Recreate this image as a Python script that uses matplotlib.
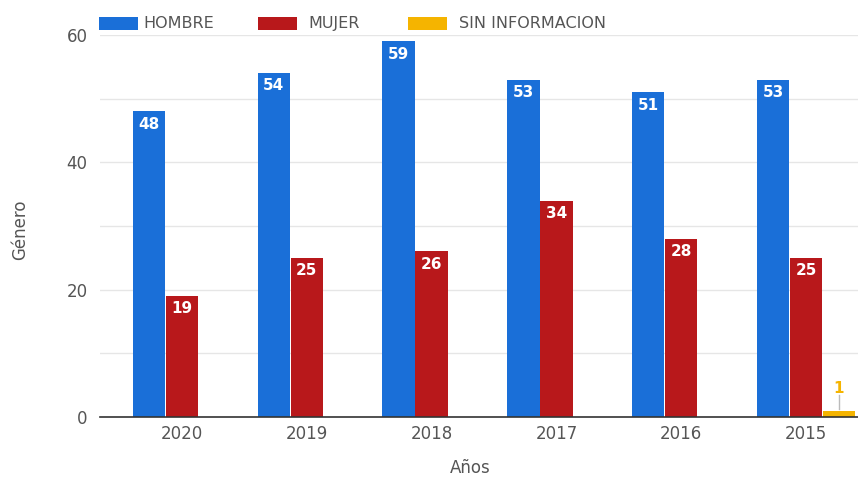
import matplotlib
matplotlib.use("Agg")
import matplotlib.pyplot as plt
import numpy as np
from matplotlib.patches import Rectangle

years = ["2020", "2019", "2018", "2017", "2016", "2015"]
hombre = [48, 54, 59, 53, 51, 53]
mujer = [19, 25, 26, 34, 28, 25]
sin_info = [0, 0, 0, 0, 0, 1]
series_names = ["HOMBRE", "MUJER", "SIN INFORMACION"]
colors = ["#1a6fd8", "#b8181b", "#f5b400"]

W, H = 858, 479
fig = plt.figure(figsize=(W / 100, H / 100), dpi=100)
ax = fig.add_axes([100 / W, 62 / H, 788 / W, (417 - 35) / H])

x = np.arange(len(years))
w = 0.264
gray = "#555555"

for i, (vals, c) in enumerate(zip([hombre, mujer, sin_info], colors)):
    pos = x + (i - 1) * w
    ax.bar(pos, vals, width=w * 0.98, color=c, zorder=3)
    for p, v in zip(pos, vals):
        if v == 0:
            continue
        if v >= 5:
            ax.text(p, v - 2.0, str(v), ha="center", va="center", color="white",
                    fontsize=11, fontweight="bold", zorder=4)
        else:
            ax.text(p, v + 3.5, str(v), ha="center", va="center", color=c,
                    fontsize=11, fontweight="bold", zorder=4)
            ax.plot([p, p], [v + 0.3, v + 2.4], color="#bbbbbb", lw=1, zorder=4)

ax.set_xlim(-0.656, len(years) - 1 + 0.656)
ax.set_ylim(0, 60)
ax.set_yticks([0, 20, 40, 60])
ax.set_yticks([10, 30, 50], minor=True)
ax.grid(axis="y", which="both", color="#e6e6e6", lw=1, zorder=0)
ax.tick_params(axis="y", which="both", length=0, labelsize=12, labelcolor=gray, pad=9)
ax.set_xticks(x)
ax.set_xticklabels(years)
ax.tick_params(axis="x", length=0, labelsize=12, labelcolor=gray, pad=6)
for s in ["top", "right", "left"]:
    ax.spines[s].set_visible(False)
ax.spines["bottom"].set_color("#333333")
ax.spines["bottom"].set_linewidth(1.2)
ax.spines["bottom"].set_zorder(5)

fig.text(470 / W, 1 - 468 / H, "Años", ha="center", va="center", fontsize=12, color=gray)
fig.text(20 / W, 1 - 230 / H, "Género", ha="center", va="center", fontsize=12,
         color=gray, rotation=90)

# manual legend
rect_x = [99, 258, 408]
text_x = [143, 308, 459]
for rx, tx, name, c in zip(rect_x, text_x, series_names, colors):
    fig.add_artist(Rectangle((rx / W, 1 - 30 / H), 39 / W, 13 / H,
                             transform=fig.transFigure, facecolor=c, edgecolor="none"))
    fig.text(tx / W, 1 - 23.5 / H, name, ha="left", va="center", fontsize=11.5,
             color=gray)

fig.savefig("out.png", dpi=100, facecolor="white")
